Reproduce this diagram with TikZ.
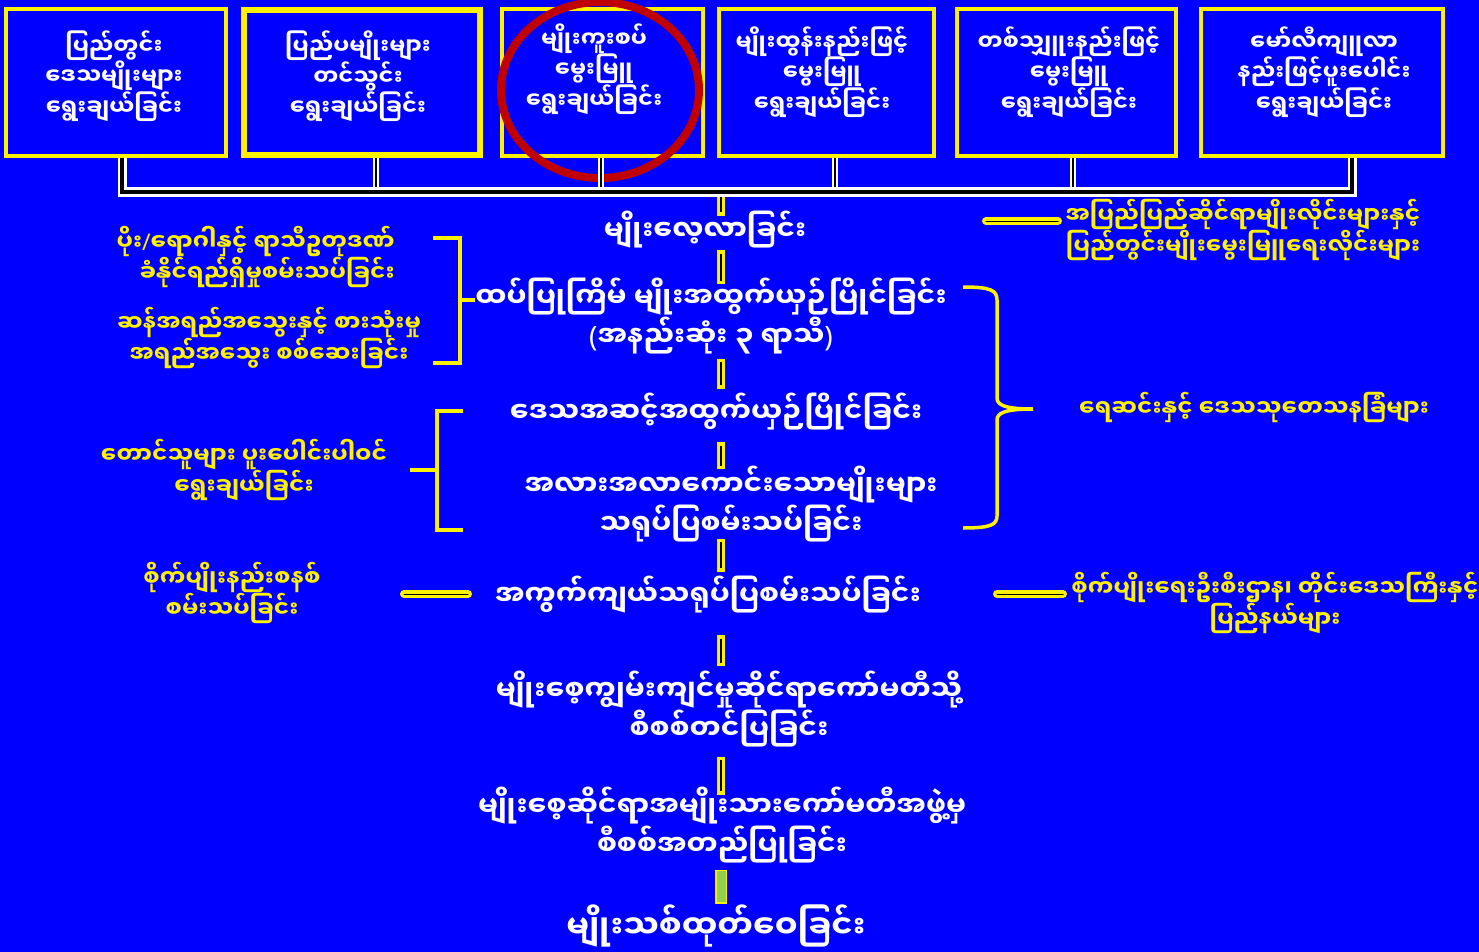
\documentclass[tikz,border=0pt]{standalone}
\usepackage{fontspec}
\newfontfamily\mmfont[Script=Myanmar]{Noto Sans Myanmar UI}
\newfontfamily\latinfont{Noto Sans}
\definecolor{leafgreen}{RGB}{146,208,80}
\definecolor{ringred}{RGB}{192,0,0}
\begin{document}
\begin{tikzpicture}[x=1pt,y=1pt]
\tikzstyle{every node}+=[inner sep=0pt]
\tikzstyle{topbox}=[draw=yellow, line width=4pt, fill=blue, minimum height=147]
\tikzstyle{boxtext}=[text=white, align=center, font=\mmfont\bfseries\fontsize{22.5}{28}\selectfont]
\tikzstyle{steptext}=[text=white, align=center, font=\mmfont\bfseries\fontsize{28}{31}\selectfont]
\tikzstyle{sidetext}=[text=yellow, align=center, font=\mmfont\bfseries\fontsize{23}{28}\selectfont]
\tikzstyle{wlink}=[draw=white, double=black, line width=2pt, double distance=2.5pt]
\tikzstyle{wbar}=[draw=white, double=black, line width=2.5pt, double distance=4pt]
\tikzstyle{ylink}=[draw=yellow, double=black, line width=3.5pt, double distance=1.5pt, line cap=rect]
\tikzstyle{glink}=[draw=yellow, double=leafgreen, line width=1.5pt, double distance=9pt, line cap=rect]
\tikzstyle{yline}=[draw=yellow, line width=3.5pt]
\tikzstyle{ydash}=[draw=yellow, double=black, line width=3.5pt, double distance=1pt, line cap=round]
\fill [blue] (0,0) rectangle (1479,-952);
\useasboundingbox (0,0) rectangle (1479,-952);
\node [topbox, minimum width=220] (b1) at (116,-82.5) {};
\node [topbox, minimum width=236, line width=6pt, minimum height=145] (b2) at (362,-82.5) {};
\node [topbox, minimum width=201] (b3) at (602.5,-82.5) {};
\node [topbox, minimum width=215] (b4) at (826.5,-82.5) {};
\node [topbox, minimum width=219] (b5) at (1066.5,-82.5) {};
\node [topbox, minimum width=242] (b6) at (1322,-82.5) {};
\node [boxtext] (t1) at (114,-76) {ပြည်တွင်း\\ဒေသမျိုးများ\\ရွေးချယ်ခြင်း};
\node [boxtext] (t2) at (358,-76) {ပြည်ပမျိုးများ\\တင်သွင်း\\ရွေးချယ်ခြင်း};
\node [boxtext] (t3) at (594,-69) {မျိုးကူးစပ်\\မွေးမြူ\\ရွေးချယ်ခြင်း};
\node [boxtext] (t4) at (822,-72) {မျိုးထွန်းနည်းဖြင့်\\မွေးမြူ\\ရွေးချယ်ခြင်း};
\node [boxtext] (t5) at (1069,-72) {တစ်သျှူးနည်းဖြင့်\\မွေးမြူ\\ရွေးချယ်ခြင်း};
\node [boxtext] (t6) at (1324,-72) {မော်လီကျူလာ\\နည်းဖြင့်ပူးပေါင်း\\ရွေးချယ်ခြင်း};
\draw [ringred, line width=8pt] (600,-90) ellipse (99 and 88);
\coordinate (bar) at (721,-192);
\coordinate (axis) at (721,0);
\node [steptext] (s1) at (705,-230) {မျိုးလေ့လာခြင်း};
\node [steptext] (s2) at (711,-316) {ထပ်ပြုကြိမ် မျိုးအထွက်ယှဉ်ပြိုင်ခြင်း\\{\latinfont(}အနည်းဆုံး ၃ ရာသီ{\latinfont)}};
\node [steptext] (s3) at (716,-412) {ဒေသအဆင့်အထွက်ယှဉ်ပြိုင်ခြင်း};
\node [steptext] (s4) at (731,-504) {အလားအလာကောင်းသောမျိုးများ\\သရုပ်ပြစမ်းသပ်ခြင်း};
\node [steptext] (s5) at (708,-595) {အကွက်ကျယ်သရုပ်ပြစမ်းသပ်ခြင်း};
\node [steptext] (s6) at (729,-709) {မျိုးစေ့ကျွမ်းကျင်မှုဆိုင်ရာကော်မတီသို့\\စီစစ်တင်ပြခြင်း};
\node [steptext] (s7) at (722,-825) {မျိုးစေ့ဆိုင်ရာအမျိုးသားကော်မတီအဖွဲ့မှ\\စီစစ်အတည်ပြုခြင်း};
\node [steptext, font=\mmfont\bfseries\fontsize{32}{36}\selectfont] (s8) at (716,-926) {မျိုးသစ်ထုတ်ဝေခြင်း};
\node [sidetext, align=right, anchor=east] (l1) at (395,-257) {ပိုး{\latinfont/}ရောဂါနှင့် ရာသီဥတုဒဏ်\\ခံနိုင်ရည်ရှိမှုစမ်းသပ်ခြင်း};
\node [sidetext] (l2) at (269,-338) {ဆန်အရည်အသွေးနှင့် စားသုံးမှု\\အရည်အသွေး စစ်ဆေးခြင်း};
\node [sidetext] (l3) at (244,-470) {တောင်သူများ ပူးပေါင်းပါဝင်\\ရွေးချယ်ခြင်း};
\node [sidetext] (l4) at (232,-593) {စိုက်ပျိုးနည်းစနစ်\\စမ်းသပ်ခြင်း};
\node [sidetext] (r1) at (1243,-230) {အပြည်ပြည်ဆိုင်ရာမျိုးလိုင်းများနှင့်\\ပြည်တွင်းမျိုးမွေးမြူရေးလိုင်းများ};
\node [sidetext] (r2) at (1254,-408) {ရေဆင်းနှင့် ဒေသသုတေသနခြံများ};
\node [sidetext] (r3) at (1275,-603) {စိုက်ပျိုးရေးဦးစီးဌာန၊ တိုင်းဒေသကြီးနှင့်\\ပြည်နယ်များ};
\draw [wlink] ([xshift=14]b2.south) -- ([xshift=14]b2.south |- bar);
\draw [wlink] ([xshift=-1.5]b3.south) -- ([xshift=-1.5]b3.south |- bar);
\draw [wlink] ([xshift=8.5]b4.south) -- ([xshift=8.5]b4.south |- bar);
\draw [wlink] ([xshift=6.5]b5.south) -- ([xshift=6.5]b5.south |- bar);
\draw [ylink] (bar) -- (s1.north -| axis);
\draw [wbar] ([xshift=6]b1.south) |- (bar) -| ([xshift=30]b6.south);
\draw [ylink, shorten <=6, shorten >=-2] (s1.south -| axis) -- (s2.north -| axis);
\draw [ylink, shorten <=9, shorten >=9] (s2.south -| axis) -- (s3.north -| axis);
\draw [ylink, shorten <=16, shorten >=1] (s3.south -| axis) -- (s4.north -| axis);
\draw [ylink, shorten <=1, shorten >=9] (s4.south -| axis) -- (s5.north -| axis);
\draw [ylink, shorten <=26, shorten >=9] (s5.south -| axis) -- (s6.north -| axis);
\draw [ylink, shorten <=14, shorten >=-3] (s6.south -| axis) -- (s7.north -| axis);
\draw [glink, shorten <=13, shorten >=7] (s7.south -| axis) -- (s8.north -| axis);
\coordinate (k1) at (460,-300);
\draw [yline] (k1) ++(-27,62) -| ++(27,-125) -- ++(-27,0);
\draw [yline] (k1) -- (s2.west |- k1);
\coordinate (k2) at (437,-470);
\draw [yline] (k2) ++(26,59) -| ++(-26,-119) -- ++(26,0);
\draw [yline] (k2) -- ++(-27,0);
\coordinate (k3) at (1033,-409);
\draw [yline] (963,-287) .. controls (990,-287) and (997,-290) .. (997,-300) -- (997,-398) .. controls (997,-405) and (1005,-409) .. (k3) .. controls (1005,-409) and (997,-413) .. (997,-420) -- (997,-516) .. controls (997,-525) and (990,-528) .. (963,-528);
\coordinate (d1) at (986,-221);
\draw [ydash] (d1) -- ++(72,0);
\coordinate (d2) at (404,-594);
\draw [ydash] (d2) -- ++(64,0);
\coordinate (d3) at (997,-594);
\draw [ydash] (d3) -- ++(66,0);
\end{tikzpicture}
\end{document}
